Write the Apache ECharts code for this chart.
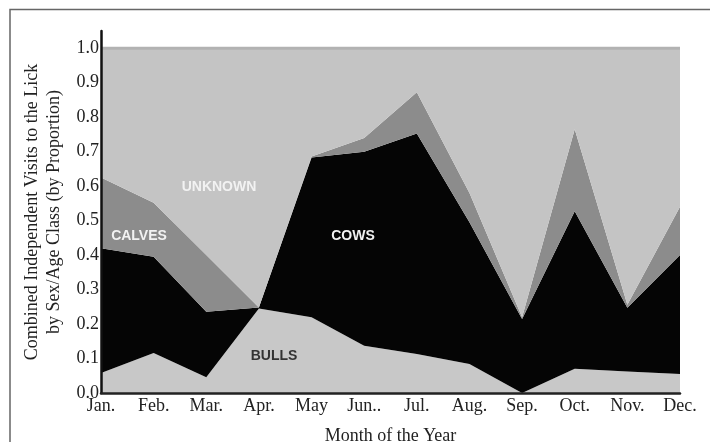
<!DOCTYPE html>
<html>
<head>
<meta charset="utf-8">
<script src="https://cdn.jsdelivr.net/npm/echarts@6/dist/echarts.min.js"></script>
<style>
html,body{margin:0;padding:0;background:#fff;}
#chart{width:710px;height:442px;}
</style>
</head>
<body>
<div id="chart"></div>
<script>
const months = ['Jan.', 'Feb.', 'Mar.', 'Apr.', 'May', 'Jun..', 'Jul.', 'Aug.', 'Sep.', 'Oct.', 'Nov.', 'Dec.'];
const bulls   = [0.058, 0.116, 0.046, 0.245, 0.220, 0.137, 0.113, 0.084, 0.000, 0.070, 0.062, 0.055];
const cows    = [0.362, 0.279, 0.190, 0.003, 0.463, 0.563, 0.640, 0.411, 0.215, 0.457, 0.185, 0.345];
const calves  = [0.205, 0.157, 0.164, 0.000, 0.003, 0.040, 0.119, 0.085, 0.005, 0.238, 0.009, 0.140];
const unknown = [0.375, 0.448, 0.600, 0.752, 0.314, 0.260, 0.128, 0.420, 0.780, 0.235, 0.744, 0.460];
const yTicks = ['0.0','0.1','0.2','0.3','0.4','0.5','0.6','0.7','0.8','0.9','1.0'];

const chart = echarts.init(document.getElementById('chart'));
const serif = '"Liberation Serif", "DejaVu Serif", serif';
function areaSeries(name, data, color, lineColor, lineWidth) {
  return {
    name: name, type: 'line', stack: 'total', data: data,
    symbol: 'none', smooth: false, z: 1,
    lineStyle: { width: lineWidth || 0, color: lineColor || color },
    areaStyle: { color: color, opacity: 1 },
    itemStyle: { color: color },
    emphasis: { disabled: true },
    silent: true
  };
}
chart.setOption({
  animation: false,
  backgroundColor: '#ffffff',
  grid: { left: 101, right: 30, top: 31, bottom: 49, containLabel: false, outerBoundsMode: 'none' },
  xAxis: {
    type: 'category', data: months, boundaryGap: false, z: 5,
    axisLine: { lineStyle: { color: '#222', width: 2.5 } },
    axisTick: { show: false },
    axisLabel: { color: '#222', fontFamily: serif, fontSize: 18, margin: 4, interval: 0 },
    name: 'Month of the Year', nameLocation: 'middle', nameGap: 34,
    nameTextStyle: { color: '#222', fontFamily: serif, fontSize: 18 }
  },
  yAxis: {
    type: 'value', min: 0, max: 1.05, interval: 0.1, z: 5,
    axisLine: { show: true, lineStyle: { color: '#111', width: 2.5 } },
    axisTick: { show: false },
    splitLine: { show: false },
    axisLabel: {
      color: '#222', fontFamily: serif, fontSize: 18, margin: 2,
      formatter: function (v) { const i = Math.round(v * 10); return (i >= 0 && i < yTicks.length && Math.abs(v * 10 - i) < 1e-6) ? yTicks[i] : ''; }
    },
    name: 'Combined Independent Visits to the Lick\nby Sex/Age Class (by Proportion)',
    nameLocation: 'middle', nameGap: 30, nameRotate: 90,
    nameTextStyle: { color: '#222', fontFamily: serif, fontSize: 18, lineHeight: 22 }
  },
  series: [
    areaSeries('BULLS', bulls, '#c8c8c8'),
    areaSeries('COWS', cows, '#050505'),
    areaSeries('CALVES', calves, '#8c8c8c'),
    areaSeries('UNKNOWN', unknown, '#c4c4c4', '#b2b2b2', 3)
  ],
  graphic: [
    { type: 'rect', silent: true, z: 100,
      shape: { x: 10, y: 9.5, width: 760, height: 500 },
      style: { fill: 'none', stroke: '#666', lineWidth: 1.5 } },
    { type: 'text', silent: true, z: 100, x: 219, y: 187,
      style: { text: 'UNKNOWN', fill: '#f2f2f2', font: 'bold 14px "Liberation Sans", Arial, sans-serif', align: 'center', verticalAlign: 'middle' } },
    { type: 'text', silent: true, z: 100, x: 139, y: 236,
      style: { text: 'CALVES', fill: '#f2f2f2', font: 'bold 14px "Liberation Sans", Arial, sans-serif', align: 'center', verticalAlign: 'middle' } },
    { type: 'text', silent: true, z: 100, x: 353, y: 236,
      style: { text: 'COWS', fill: '#f2f2f2', font: 'bold 14px "Liberation Sans", Arial, sans-serif', align: 'center', verticalAlign: 'middle' } },
    { type: 'text', silent: true, z: 100, x: 274, y: 356,
      style: { text: 'BULLS', fill: '#333', font: 'bold 14px "Liberation Sans", Arial, sans-serif', align: 'center', verticalAlign: 'middle' } }
  ]
});
</script>
</body>
</html>
